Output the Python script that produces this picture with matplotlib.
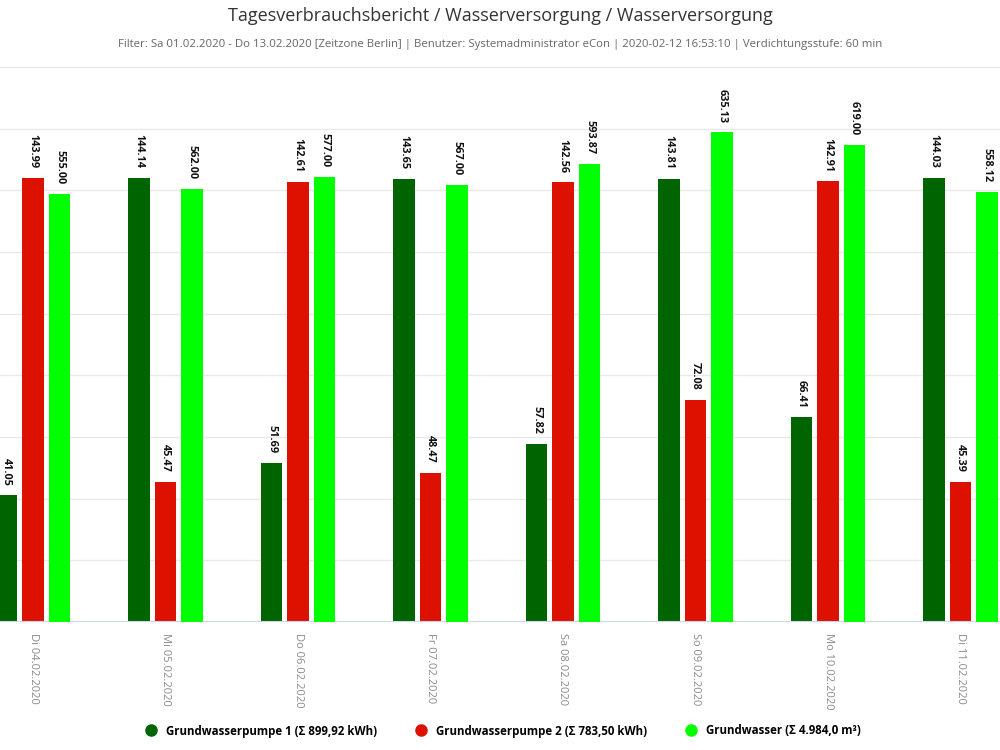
#!/usr/bin/env python3

import numpy as np
import matplotlib
matplotlib.use('Agg')
import matplotlib.pyplot as plt
from matplotlib.lines import Line2D

plt.rcParams['font.family'] = ['Open Sans', 'DejaVu Sans']

days = ['Di 04.02.2020', 'Mi 05.02.2020', 'Do 06.02.2020', 'Fr 07.02.2020',
        'Sa 08.02.2020', 'So 09.02.2020', 'Mo 10.02.2020', 'Di 11.02.2020']
pumpe1 = [41.05, 144.14, 51.69, 143.65, 57.82, 143.81, 66.41, 144.03]
pumpe2 = [143.99, 45.47, 142.61, 48.47, 142.56, 72.08, 142.91, 45.39]
wasser = [555.00, 562.00, 577.00, 567.00, 593.87, 635.13, 619.00, 558.12]

legend_labels = ['Grundwasserpumpe 1 (\u03a3 899,92 kWh)',
                 'Grundwasserpumpe 2 (\u03a3 783,50 kWh)',
                 'Grundwasser (\u03a3 4.984,0 m\u00b3)']
colors = ['#006400', '#dd1100', '#00ff00']

fig = plt.figure(figsize=(10, 7.5), dpi=100)
ax = fig.add_axes([0, 1 - 622 / 750, 1, (622 - 67) / 750])
ax2 = ax.twinx()

x = np.arange(len(days))
w = 0.16
off = 0.2


def label_bars(axis, bars, vals):
    for b, v in zip(bars, vals):
        axis.annotate(f'{v:.2f}', (b.get_x() + b.get_width() / 2, b.get_height()),
                      xytext=(0, 7), textcoords='offset points',
                      rotation=-90, ha='center', va='bottom',
                      fontsize=7.8, fontweight='bold', color='#111111')


b1 = ax.bar(x - off, pumpe1, w, color=colors[0], zorder=3)
b2 = ax.bar(x, pumpe2, w, color=colors[1], zorder=3)
b3 = ax2.bar(x + off, wasser, w, color=colors[2], zorder=3)
label_bars(ax, b1, pumpe1)
label_bars(ax, b2, pumpe2)
label_bars(ax2, b3, wasser)

ax.set_ylim(0, 180)
ax2.set_ylim(0, 720)
ax.set_yticks(np.arange(0, 181, 20))
ax.yaxis.grid(True, color='#e9e9e9', linewidth=1, zorder=0)
ax.set_axisbelow(True)
ax.tick_params(axis='y', left=False, labelleft=False)
ax2.tick_params(axis='y', right=False, labelright=False)
ax.set_xlim(-33 / 132.5, (1000 - 33) / 132.5)

ax.set_xticks(x)
ax.set_xticklabels(days, rotation=-90, fontsize=8, color='#8a8a8a')
ax.tick_params(axis='x', length=0, pad=8)

for a in (ax, ax2):
    for s in ('top', 'left', 'right', 'bottom'):
        a.spines[s].set_visible(False)
ax.axhline(0, color='#ccd6eb', linewidth=1.5, zorder=4)

fig.text(0.5, 1 - 16 / 750, 'Tagesverbrauchsbericht / Wasserversorgung / Wasserversorgung',
         ha='center', va='center', fontsize=13, color='#333333')
fig.text(0.5, 1 - 44 / 750,
         'Filter: Sa 01.02.2020 - Do 13.02.2020 [Zeitzone Berlin] | Benutzer: Systemadministrator eCon | '
         '2020-02-12 16:53:10 | Verdichtungsstufe: 60 min',
         ha='center', va='center', fontsize=8.2, color='#666666')

handles = [Line2D([], [], marker='o', linestyle='', markersize=8, color=c) for c in colors]
fig.legend(handles, legend_labels, loc='center', bbox_to_anchor=(0.5, 1 - 731 / 750),
           ncol=3, frameon=False, handletextpad=0.3, columnspacing=2.8,
           prop={'weight': 'bold', 'size': 8.3})

fig.savefig('out.png', dpi=100)
